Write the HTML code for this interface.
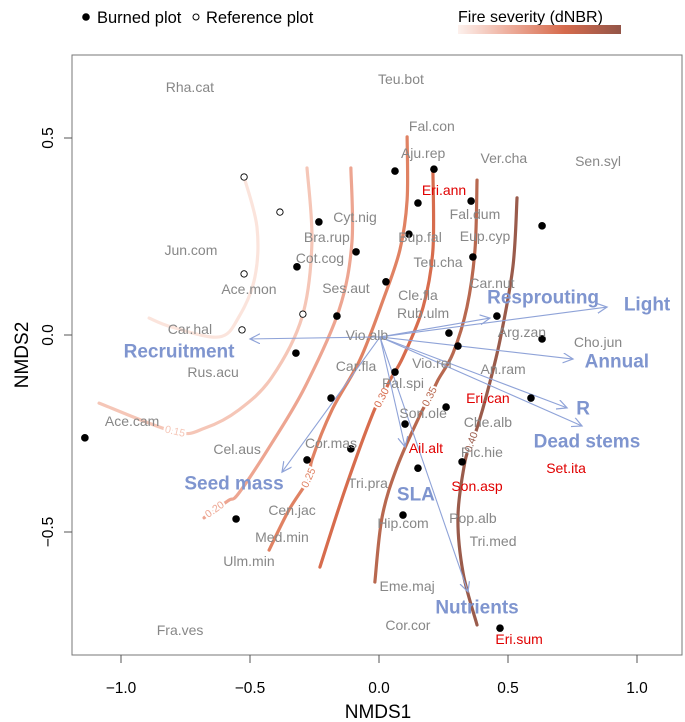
<!DOCTYPE html>
<html><head><meta charset="utf-8"><style>
html,body{margin:0;padding:0;background:#fff;}
svg{display:block;font-family:"Liberation Sans",Arial,sans-serif;}
</style></head><body>
<svg id="chart" width="685" height="722" viewBox="0 0 685 722" xmlns="http://www.w3.org/2000/svg">
<defs>
<linearGradient id="sev" x1="0" x2="1" y1="0" y2="0">
<stop offset="0" stop-color="#fdf1ed"/><stop offset="0.3" stop-color="#eeb09f"/><stop offset="0.65" stop-color="#d66b4d"/><stop offset="1" stop-color="#935548"/>
</linearGradient>
<marker id="ah" markerWidth="12" markerHeight="12" refX="10" refY="5" orient="auto" markerUnits="userSpaceOnUse">
<path d="M0,0 L10,5 L0,10" fill="none" stroke="#8fa3d8" stroke-width="1.2"/>
</marker>
</defs>
<g>
<circle cx="86" cy="17" r="3.8" fill="#000"/>
<text x="97" y="23" font-size="16.5">Burned plot</text>
<circle cx="196" cy="17" r="3" fill="#fff" stroke="#000" stroke-width="1"/>
<text x="206" y="23" font-size="16.5">Reference plot</text>
<text x="458" y="22" font-size="16">Fire severity (dNBR)</text>
<rect x="458" y="25" width="163" height="9" fill="url(#sev)"/>
</g>
<rect x="72" y="55" width="610" height="600" fill="none" stroke="#777" stroke-width="1"/>
<g id="axes"></g>
<g id="contours"></g>
<g id="vectors"></g>
<g id="points"></g>
<g id="labels"></g>
<text x="378" y="718" font-size="19" text-anchor="middle">NMDS1</text>
<text transform="translate(28,355) rotate(-90)" font-size="19" text-anchor="middle">NMDS2</text>
</svg>
<script>
const xTicks=[-1.0,-0.5,0.0,0.5,1.0];
const xTickLabels=["\u22121.0","\u22120.5","0.0","0.5","1.0"];
const yTicks=[-0.5,0.0,0.5];
const yTickLabels=["\u22120.5","0.0","0.5"];
const burnedX=[0.062,0.213,0.151,0.357,0.116,0.364,0.027,0.457,0.271,0.306,0.632,0.632,0.589,0.062,0.260,0.101,-0.233,-0.089,-0.318,-0.163,-0.322,-0.186,-1.140,-0.109,-0.279,-0.554,0.093,0.151,0.322,0.469];
const burnedY=[0.416,0.421,0.335,0.340,0.256,0.198,0.135,0.048,0.005,-0.028,-0.010,0.277,-0.160,-0.094,-0.183,-0.226,0.287,0.211,0.173,0.048,-0.046,-0.160,-0.261,-0.289,-0.317,-0.467,-0.457,-0.338,-0.322,-0.744];
const refX=[-0.523,-0.384,-0.523,-0.295,-0.531];
const refY=[0.401,0.312,0.155,0.053,0.013];
const speciesNames=["Rha.cat","Teu.bot","Fal.con","Aju.rep","Ver.cha","Sen.syl","Eri.ann","Cyt.nig","Fal.dum","Bup.fal","Eup.cyp","Bra.rup","Jun.com","Cot.cog","Teu.cha","Car.nut","Ace.mon","Ses.aut","Cle.fla","Rub.ulm","Car.hal","Arg.zan","Vio.alb","Cho.jun","Vio.rei","Car.fla","An.ram","Rus.acu","Pal.spi","Eri.can","Son.ole","Ace.cam","Che.alb","Cor.mas","Ail.alt","Cel.aus","Pic.hie","Set.ita","Tri.pra","Son.asp","Cen.jac","Pop.alb","Hip.com","Med.min","Tri.med","Ulm.min","Eme.maj","Cor.cor","Fra.ves","Eri.sum"];
const speciesX=[-0.733,0.085,0.205,0.171,0.484,0.849,0.252,-0.093,0.372,0.159,0.411,-0.202,-0.729,-0.229,0.229,0.438,-0.504,-0.128,0.151,0.171,-0.733,0.554,-0.047,0.849,0.205,-0.089,0.481,-0.643,0.093,0.422,0.171,-0.957,0.422,-0.186,0.182,-0.550,0.399,0.725,-0.043,0.380,-0.337,0.364,0.093,-0.376,0.442,-0.504,0.109,0.112,-0.771,0.543];
const speciesY=[0.629,0.650,0.530,0.462,0.449,0.442,0.368,0.299,0.307,0.249,0.251,0.249,0.216,0.195,0.185,0.132,0.117,0.119,0.102,0.056,0.015,0.008,0.000,-0.018,-0.071,-0.079,-0.086,-0.094,-0.122,-0.160,-0.198,-0.218,-0.221,-0.274,-0.287,-0.289,-0.297,-0.338,-0.376,-0.383,-0.444,-0.464,-0.477,-0.513,-0.523,-0.574,-0.637,-0.736,-0.749,-0.772];
const speciesInvasive=["Eri.ann","Eri.can","Ail.alt","Set.ita","Son.asp","Eri.sum"];
const traitNames=["Resprouting","Light","Recruitment","Annual","R","Dead stems","Seed mass","SLA","Nutrients"];
const traitX=[0.430,0.884,-0.500,0.752,0.729,0.787,-0.376,0.101,0.345];
const traitY=[0.043,0.071,-0.010,-0.061,-0.185,-0.231,-0.348,-0.284,-0.652];
const traitLabelX=[0.636,1.039,-0.775,0.922,0.791,0.806,-0.562,0.143,0.380];
const traitLabelY=[0.096,0.079,-0.041,-0.066,-0.185,-0.269,-0.376,-0.404,-0.690];
const vectorOrigin=[0.004,-0.005];
const contourLevels=["","0.15","0.20","0.25","0.30","0.35","0.40"];
const contourX=[
[-0.523,-0.473,-0.481,-0.543,-0.620,-0.802,-0.891],
[-0.279,-0.260,-0.298,-0.415,-0.543,-0.674,-0.791,-1.085],
[-0.109,-0.105,-0.155,-0.287,-0.415,-0.543,-0.581,-0.636,-0.678],
[0.109,0.109,0.081,0.016,-0.074,-0.182,-0.260,-0.271,-0.349,-0.426],
[0.209,0.209,0.171,0.093,0.043,0.012,-0.023,-0.132,-0.229],
[0.380,0.372,0.341,0.287,0.229,0.198,0.159,0.070,0.012,-0.016],
[0.535,0.519,0.469,0.419,0.384,0.360,0.333,0.306,0.326,0.380]];
const contourY=[
[0.401,0.274,0.147,0.046,-0.005,0.020,0.043],
[0.424,0.234,0.046,-0.107,-0.190,-0.236,-0.246,-0.173],
[0.424,0.234,0.063,-0.132,-0.274,-0.401,-0.419,-0.444,-0.464],
[0.503,0.343,0.216,0.089,-0.063,-0.190,-0.317,-0.363,-0.444,-0.546],
[0.419,0.216,0.071,-0.056,-0.114,-0.160,-0.198,-0.393,-0.589],
[0.393,0.216,0.071,-0.046,-0.114,-0.157,-0.203,-0.335,-0.462,-0.627],
[0.348,0.173,-0.013,-0.147,-0.228,-0.272,-0.322,-0.462,-0.604,-0.736]];
const contourLabelIndex=[-1,6,7,7,5,5,5];
const contourColors=["#fbe4dc","#f5c6b7","#eda591","#e08263","#d76c4d","#b8684f","#9a5b4b"];

const NS="http://www.w3.org/2000/svg";
const sx=v=>379+v*258;
const sy=v=>335-v*394;
function mk(tag,attrs,parent){const e=document.createElementNS(NS,tag);for(const k in attrs)e.setAttribute(k,attrs[k]);parent.appendChild(e);return e;}
const axes=document.getElementById('axes');
xTicks.forEach((t,i)=>{
 const l=mk('line',{x1:sx(t),x2:sx(t),y1:655,y2:663,stroke:'#555'},axes);
 
 
 const tx=mk('text',{x:sx(t),y:693,'font-size':15.5,'text-anchor':'middle'},axes);
 
 
 tx.textContent=xTickLabels[i];
});
yTicks.forEach((t,i)=>{
 const l=mk('line',{x1:64,x2:72,y1:sy(t),y2:sy(t),stroke:'#555'},axes);
 
 
 const tx=mk('text',{transform:`translate(53,${sy(t)}) rotate(-90)`,'font-size':15.5,'text-anchor':'middle'},axes);
 
 
 tx.textContent=yTickLabels[i];
});
function smooth(pts){
 let d=`M${pts[0][0]},${pts[0][1]}`;
 for(let i=0;i<pts.length-1;i++){
  const p0=pts[Math.max(0,i-1)],p1=pts[i],p2=pts[i+1],p3=pts[Math.min(pts.length-1,i+2)];
  const c1=[p1[0]+(p2[0]-p0[0])/6,p1[1]+(p2[1]-p0[1])/6];
  const c2=[p2[0]-(p3[0]-p1[0])/6,p2[1]-(p3[1]-p1[1])/6];
  d+=` C${c1[0]},${c1[1]} ${c2[0]},${c2[1]} ${p2[0]},${p2[1]}`;
 }
 return d;
}
const cg=document.getElementById('contours');
contourX.forEach((xs,ci)=>{
 const pts=xs.map((x,j)=>[sx(x),sy(contourY[ci][j])]);
 const p=mk('path',{d:smooth(pts),fill:'none',stroke:contourColors[ci],'stroke-width':3.2,'stroke-linecap':'round'},cg);
 
 
 const li=contourLabelIndex[ci];
 if(li>=0){
  const a=pts[li-1],b=pts[li+1],c=pts[li];
  let ang=Math.atan2(b[1]-a[1],b[0]-a[0])*180/Math.PI;
  if(ang>90)ang-=180; if(ang<-90)ang+=180;
  const t=mk('text',{transform:`translate(${c[0]},${c[1]}) rotate(${ang})`,'font-size':10.5,'text-anchor':'middle','dominant-baseline':'middle',fill:contourColors[ci],stroke:'#fff','stroke-width':4,'paint-order':'stroke'},cg);
  
  
  t.textContent=contourLevels[ci];
 }
});
const vg=document.getElementById('vectors');
traitNames.forEach((n,i)=>{
 const l=mk('line',{x1:sx(vectorOrigin[0]),y1:sy(vectorOrigin[1]),x2:sx(traitX[i]),y2:sy(traitY[i]),stroke:'#8fa3d8','stroke-width':1.1,'marker-end':'url(#ah)'},vg);
 
 
});
const pg=document.getElementById('points');
burnedX.forEach((x,i)=>{
 const c=mk('circle',{cx:sx(x),cy:sy(burnedY[i]),r:3.8,fill:'#000'},pg);
 
 
});
refX.forEach((x,i)=>{
 const c=mk('circle',{cx:sx(x),cy:sy(refY[i]),r:3.2,fill:'#fff',stroke:'#000','stroke-width':0.9},pg);
 
 
});
const lg=document.getElementById('labels');
speciesNames.forEach((n,i)=>{
 const inv=speciesInvasive.includes(n);
 const t=mk('text',{x:sx(speciesX[i]),y:sy(speciesY[i])+5,'font-size':14,'text-anchor':'middle',fill:inv?'#e00000':'#878787'},lg);
 
 
 t.textContent=n;
});
traitNames.forEach((n,i)=>{
 const t=mk('text',{x:sx(traitLabelX[i]),y:sy(traitLabelY[i])+6.5,'font-size':19,'font-weight':'bold','text-anchor':'middle',fill:'#7f95cf'},lg);
 
 
 t.textContent=n;
});
</script>
</body></html>
